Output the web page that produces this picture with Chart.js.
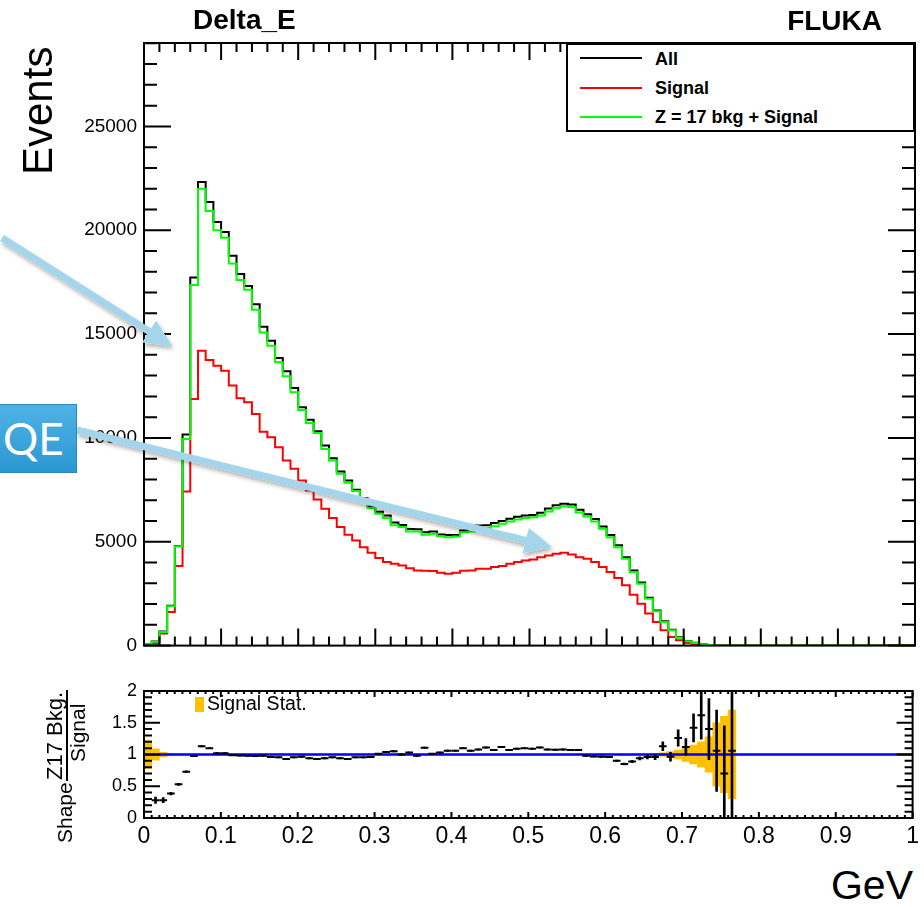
<!DOCTYPE html>
<html>
<head>
<meta charset="utf-8">
<script src="https://cdn.jsdelivr.net/npm/chart.js@4.4.1/dist/chart.umd.min.js"></script>
<style>
  html, body { margin: 0; padding: 0; background: #fff; }
  body { width: 924px; height: 907px; position: relative; overflow: hidden;
         font-family: "Liberation Sans", Arial, Helvetica, sans-serif; color: #000; }
  canvas { position: absolute; left: 0; }
  #mainChart { top: 0; }
  #ratioChart { top: 671px; }
  .t { position: absolute; white-space: nowrap; line-height: 1; z-index: 2; }
  .b { font-weight: bold; }
  .rot { transform-origin: 0 0; transform: rotate(-90deg); }
  #legend { position: absolute; left: 566px; top: 43px; width: 349px; height: 89px;
            box-sizing: border-box; border: 2px solid #000; background: #fff; z-index: 1; }
  .sw { position: absolute; left: 580px; width: 62px; height: 2px; z-index: 2; }
  #fracBar { position: absolute; left: 66px; top: 690px; width: 1.5px; height: 91px; background: #000; }
  #statBox { position: absolute; left: 195px; top: 697px; width: 9px; height: 15px; background: #ffc000; }
  #qe { position: absolute; left: -4px; top: 404px; width: 81px; height: 69px; z-index: 4;
        background: linear-gradient(#4fb3e6, #2a97d2); border: 1px solid #2b86bb; box-sizing: border-box;
        color: #fff; font-family: Lato, "Open Sans", sans-serif; font-size: 44px; line-height: 67px;
        padding-left: 6px; }
  #ann { position: absolute; left: 0; top: 0; z-index: 3; pointer-events: none; }
</style>
</head>
<body>
<canvas id="mainChart" width="924" height="664"></canvas>
<canvas id="ratioChart" width="924" height="190"></canvas>

<div class="t b" style="left:193px;top:6px;font-size:28px;">Delta_E</div>
<div class="t b" style="right:42px;top:7px;font-size:28px;">FLUKA</div>
<div class="t rot" style="left:17px;top:175px;font-size:42px;">Events</div>
<div class="t" style="right:11px;top:865px;font-size:41px;">GeV</div>

<div id="legend"></div>
<div class="sw" style="top:57px;background:#000;"></div>
<div class="sw" style="top:87px;background:#ff0000;"></div>
<div class="sw" style="top:116px;background:#00ff00;"></div>
<div class="t b" style="left:655px;top:50px;font-size:18px;">All</div>
<div class="t b" style="left:655px;top:79px;font-size:18px;">Signal</div>
<div class="t b" style="left:655px;top:108px;font-size:18px;">Z = 17 bkg + Signal</div>

<div class="t rot" style="left:54px;top:843px;font-size:21px;">Shape</div>
<div class="t rot" style="left:44px;top:780px;font-size:22px;">Z17 Bkg.</div>
<div id="fracBar"></div>
<div class="t rot" style="left:67px;top:762px;font-size:21px;">Signal</div>
<div id="statBox"></div>
<div class="t" style="left:207px;top:694px;font-size:19.5px;">Signal Stat.</div>

<div id="qe">QE</div>
<svg id="ann" width="924" height="907"></svg>

<script>
// binning: 100 bins from 0 to 1 GeV
const nBins = 100;
const binWidth = 0.01;

// tick labels
const mainYTicks = [0, 5000, 10000, 15000, 20000, 25000];
const ratioYTicks = [0, 0.5, 1, 1.5, 2];
const ratioXTicks = [0, 0.1, 0.2, 0.3, 0.4, 0.5, 0.6, 0.7, 0.8, 0.9, 1];

// main panel, events per bin
const allEvents = [
  70, 200, 680, 1920, 4800, 10160, 17730, 22320, 21360, 20400,
  19920, 18770, 17890, 17320, 16440, 15350, 14680, 13850, 13210, 12400,
  11480, 10870, 10320, 9630, 9020, 8380, 7950, 7500, 7090, 6720,
  6450, 6260, 5930, 5810, 5620, 5600, 5460, 5490, 5350, 5320,
  5320, 5540, 5620, 5780, 5800, 5900, 6000, 6110, 6200, 6260,
  6290, 6400, 6600, 6760, 6830, 6800, 6540, 6330, 6090, 5730,
  5330, 4830, 4260, 3620, 3040, 2300, 1690, 1170, 760, 400,
  220, 135, 65, 32, 10, 5, 0, 0, 0, 0,
  0, 0, 0, 0, 0, 0, 0, 0, 0, 0,
  0, 0, 0, 0, 0, 0, 0, 0, 0, 0
];
const signalEvents = [
  0, 100, 580, 1620, 3830, 7420, 11875, 14200, 13750, 13480,
  13240, 12520, 11910, 11720, 11150, 10300, 10030, 9550, 8910, 8510,
  7950, 7470, 7040, 6590, 6140, 5710, 5340, 5060, 4740, 4470,
  4220, 4020, 3940, 3860, 3730, 3620, 3600, 3590, 3510, 3460,
  3510, 3600, 3620, 3700, 3700, 3780, 3830, 3940, 4020, 4100,
  4150, 4260, 4340, 4420, 4470, 4390, 4260, 4180, 4020, 3780,
  3540, 3250, 2900, 2450, 2020, 1540, 1140, 740, 420, 260,
  130, 80, 40, 20, 5, 0, 0, 0, 0, 0,
  0, 0, 0, 0, 0, 0, 0, 0, 0, 0,
  0, 0, 0, 0, 0, 0, 0, 0, 0, 0
];
const z17PlusSignal = [
  60, 180, 660, 1890, 4780, 9950, 17360, 22000, 20930, 20000,
  19640, 18400, 17600, 17130, 16170, 15080, 14440, 13640, 12970, 12200,
  11350, 10720, 10240, 9470, 8910, 8270, 7840, 7440, 6990, 6620,
  6350, 6140, 5790, 5710, 5500, 5500, 5340, 5390, 5270, 5220,
  5250, 5460, 5500, 5650, 5660, 5750, 5870, 5980, 6070, 6140,
  6180, 6270, 6460, 6620, 6710, 6670, 6410, 6220, 5980, 5630,
  5220, 4740, 4180, 3540, 2980, 2260, 1650, 1140, 740, 380,
  210, 130, 60, 30, 10, 5, 0, 0, 0, 0,
  0, 0, 0, 0, 0, 0, 0, 0, 0, 0,
  0, 0, 0, 0, 0, 0, 0, 0, 0, 0
];

// ratio panel: shape ratio Z17 bkg / signal, its error, and signal stat. band half width
const shapeRatio = [
  null, 0.28, 0.28, 0.385, 0.53, 0.73, 0.975, 1.13, 1.10, 1.02,
  1.02, 0.99, 0.985, 0.98, 0.975, 0.98, 0.96, 0.955, 0.93, 0.955,
  0.965, 0.94, 0.93, 0.94, 0.955, 0.94, 0.93, 0.955, 0.955, 0.96,
  1.01, 1.04, 1.05, 1.0, 1.03, 0.98, 1.105, 1.01, 1.03, 1.06,
  1.06, 1.10, 1.06, 1.08, 1.11, 1.07, 1.12, 1.07, 1.09, 1.10,
  1.09, 1.11, 1.08, 1.075, 1.08, 1.07, 1.07, 0.98, 0.97, 0.965,
  0.96, 0.90, 0.85, 0.89, 0.94, 0.96, 0.96, 1.13, 0.965, 1.26,
  1.12, 1.42, 1.62, 1.40, 1.06, 0.70, 1.06
];
const shapeRatioErr = [
  0, 0.05, 0.04, 0.02, 0.015, 0.012, 0.01, 0.01, 0.01, 0.01,
  0.01, 0.01, 0.01, 0.01, 0.01, 0.01, 0.01, 0.01, 0.01, 0.01,
  0.01, 0.01, 0.01, 0.01, 0.01, 0.01, 0.01, 0.01, 0.01, 0.01,
  0.01, 0.01, 0.01, 0.01, 0.01, 0.01, 0.01, 0.01, 0.01, 0.01,
  0.01, 0.01, 0.01, 0.01, 0.01, 0.01, 0.01, 0.01, 0.01, 0.01,
  0.01, 0.01, 0.01, 0.01, 0.01, 0.01, 0.01, 0.01, 0.01, 0.01,
  0.01, 0.012, 0.015, 0.02, 0.025, 0.03, 0.04, 0.07, 0.07, 0.13,
  0.13, 0.22, 0.38, 0.48, 0.64, 0.75, 1.06
];
const signalStatErr = [
  0.22, 0.09, 0.035, 0.02, 0.012, 0.008, 0.008, 0.008, 0.008, 0.008,
  0.008, 0.008, 0.008, 0.008, 0.008, 0.008, 0.008, 0.008, 0.008, 0.008,
  0.008, 0.008, 0.008, 0.008, 0.008, 0.008, 0.008, 0.008, 0.008, 0.008,
  0.008, 0.008, 0.008, 0.008, 0.008, 0.008, 0.008, 0.008, 0.008, 0.008,
  0.008, 0.008, 0.008, 0.008, 0.008, 0.008, 0.008, 0.008, 0.008, 0.008,
  0.008, 0.008, 0.008, 0.008, 0.008, 0.008, 0.008, 0.008, 0.008, 0.008,
  0.008, 0.008, 0.008, 0.008, 0.008, 0.008, 0.015, 0.025, 0.045, 0.07,
  0.11, 0.15, 0.2, 0.28, 0.5, 0.6, 0.7
];

const binEdges = Array.from({ length: nBins + 1 }, (_, i) => i * binWidth);
const binCenters = binEdges.slice(0, nBins).map(x => x + binWidth / 2);

// step histogram: one point per left edge, last edge repeats the last bin
const histPoints = counts =>
  binEdges.map((x, i) => ({ x, y: counts[Math.min(i, nBins - 1)] }));

const fixedTicks = values => s => { s.ticks = values.map(value => ({ value })); };

// ROOT-like frame with inward ticks on all four sides
const rootFrame = {
  id: 'rootFrame',
  afterDatasetsDraw(chart, args, o) {
    const { ctx, chartArea: a } = chart;
    const xs = chart.scales.x;
    const ys = chart.scales.y;
    ctx.save();
    ctx.strokeStyle = '#000';
    ctx.lineWidth = 2;
    ctx.beginPath();
    const nx = Math.round((xs.max - xs.min) / o.xMinor);
    for (let i = 0; i <= nx; i++) {
      const px = xs.getPixelForValue(xs.min + i * o.xMinor);
      const len = i % o.xPer === 0 ? o.xMajorLen : o.xMinorLen;
      ctx.moveTo(px, a.bottom); ctx.lineTo(px, a.bottom - len);
      ctx.moveTo(px, a.top); ctx.lineTo(px, a.top + len);
    }
    const ny = Math.floor((ys.max - ys.min) / o.yMinor + 1e-6);
    for (let i = 0; i <= ny; i++) {
      const py = ys.getPixelForValue(ys.min + i * o.yMinor);
      const len = i % o.yPer === 0 ? o.yMajorLen : o.yMinorLen;
      ctx.moveTo(a.left, py); ctx.lineTo(a.left + len, py);
      ctx.moveTo(a.right, py); ctx.lineTo(a.right - len, py);
    }
    ctx.stroke();
    ctx.strokeRect(a.left, a.top, a.right - a.left, a.bottom - a.top);
    ctx.restore();
  }
};

Chart.defaults.font.family = 'Liberation Sans, Arial, Helvetica, sans-serif';
Chart.defaults.color = '#000';

const histLine = (label, counts, color, order) => ({
  label,
  data: histPoints(counts),
  borderColor: color,
  borderWidth: 2,
  pointRadius: 0,
  stepped: 'before',
  fill: false,
  order,
});

new Chart(document.getElementById('mainChart'), {
  type: 'line',
  data: {
    datasets: [
      histLine('Z = 17 bkg + Signal', z17PlusSignal, '#00ff00', 1),
      histLine('Signal', signalEvents, '#ff0000', 2),
      histLine('All', allEvents, '#000000', 3),
    ],
  },
  options: {
    responsive: false,
    animation: false,
    layout: { padding: { top: 43, right: 9, left: 0, bottom: 0 } },
    scales: {
      x: {
        type: 'linear', min: 0, max: 1, offset: false,
        ticks: { display: false },
        grid: { display: false, drawTicks: false },
        border: { display: false },
        afterFit: s => { s.height = 18; },
      },
      y: {
        type: 'linear', min: 0, max: 29016,
        afterBuildTicks: fixedTicks(mainYTicks),
        ticks: {
          padding: 7, autoSkip: false,
          font: { size: 19 },
          callback: v => String(v),
        },
        grid: { display: false, drawTicks: false },
        border: { display: false },
        afterFit: s => { s.width = 144; },
      },
    },
    plugins: {
      legend: { display: false },
      tooltip: { enabled: false },
      rootFrame: { xMinor: 0.02, xPer: 5, xMajorLen: 17, xMinorLen: 9,
                   yMinor: 1000, yPer: 5, yMajorLen: 27, yMinorLen: 13 },
    },
  },
  plugins: [rootFrame],
});

const ratioIdx = shapeRatio.map((r, i) => i).filter(i => shapeRatio[i] !== null);

new Chart(document.getElementById('ratioChart'), {
  type: 'line',
  data: {
    datasets: [
      {
        type: 'bar',
        label: 'Signal Stat.',
        data: signalStatErr.map((e, i) => ({ x: binCenters[i], y: [1 - e, 1 + e] })),
        backgroundColor: '#ffc000',
        borderWidth: 0,
        barPercentage: 1,
        categoryPercentage: 1,
        grouped: false,
        clip: 0,
        order: 4,
      },
      {
        label: 'unity',
        data: [{ x: 0, y: 1 }, { x: 1, y: 1 }],
        borderColor: '#0000ff',
        borderWidth: 2.5,
        pointRadius: 0,
        order: 3,
      },
      {
        type: 'bar',
        label: 'ratio error',
        data: ratioIdx.map(i => ({ x: binCenters[i], y: [shapeRatio[i] - shapeRatioErr[i], shapeRatio[i] + shapeRatioErr[i]] })),
        backgroundColor: '#000',
        borderWidth: 0,
        barThickness: 2,
        grouped: false,
        clip: 0,
        order: 2,
      },
      {
        label: 'ratio',
        data: ratioIdx.map(i => ({ x: binCenters[i], y: shapeRatio[i] })),
        showLine: false,
        pointStyle: 'line',
        pointRadius: 3.85,
        pointBorderWidth: 2,
        pointBorderColor: '#000',
        borderColor: '#000',
        clip: 0,
        order: 1,
      },
    ],
  },
  options: {
    responsive: false,
    animation: false,
    layout: { padding: { top: 20, right: 9, left: 0, bottom: 0 } },
    scales: {
      x: {
        type: 'linear', min: 0, max: 1, offset: false,
        afterBuildTicks: fixedTicks(ratioXTicks),
        ticks: {
          padding: 5, maxRotation: 0, autoSkip: false,
          font: { size: 23 },
          callback: v => String(v),
        },
        grid: { display: false, drawTicks: false },
        border: { display: false },
        afterFit: s => { s.height = 43; },
      },
      y: {
        type: 'linear', min: 0, max: 2,
        afterBuildTicks: fixedTicks(ratioYTicks),
        ticks: {
          padding: 7, autoSkip: false,
          font: { size: 18 },
          callback: v => String(v),
        },
        grid: { display: false, drawTicks: false },
        border: { display: false },
        afterFit: s => { s.width = 144; },
      },
    },
    plugins: {
      legend: { display: false },
      tooltip: { enabled: false },
      rootFrame: { xMinor: 0.01, xPer: 10, xMajorLen: 6, xMinorLen: 3,
                   yMinor: 0.1, yPer: 5, yMajorLen: 16, yMinorLen: 8 },
    },
  },
  plugins: [rootFrame],
});

// slide annotations: light blue arrows
const arrows = [
  { from: [2, 238], to: [172, 346] },
  { from: [77, 430], to: [552, 547] },
];
const svg = document.getElementById('ann');
let markup = '<defs><filter id="sh" x="-20%" y="-20%" width="140%" height="160%">' +
  '<feDropShadow dx="1.5" dy="3" stdDeviation="2" flood-color="#000" flood-opacity="0.3"/></filter></defs>' +
  '<g fill="#a5d5ea" filter="url(#sh)">';
arrows.forEach(({ from, to }) => {
  const dx = to[0] - from[0], dy = to[1] - from[1];
  const len = Math.hypot(dx, dy);
  const ux = dx / len, uy = dy / len, nx = -uy, ny = ux;
  const head = 27, hw = 13, sw = 3.5;
  const bx = to[0] - ux * head, by = to[1] - uy * head;
  const pts = [
    [from[0] + nx * sw, from[1] + ny * sw],
    [bx + nx * sw, by + ny * sw],
    [bx + nx * hw, by + ny * hw],
    to,
    [bx - nx * hw, by - ny * hw],
    [bx - nx * sw, by - ny * sw],
    [from[0] - nx * sw, from[1] - ny * sw],
  ];
  markup += '<polygon points="' + pts.map(p => p[0].toFixed(1) + ',' + p[1].toFixed(1)).join(' ') + '"/>';
});
markup += '</g>';
svg.innerHTML = markup;
</script>
</body>
</html>
